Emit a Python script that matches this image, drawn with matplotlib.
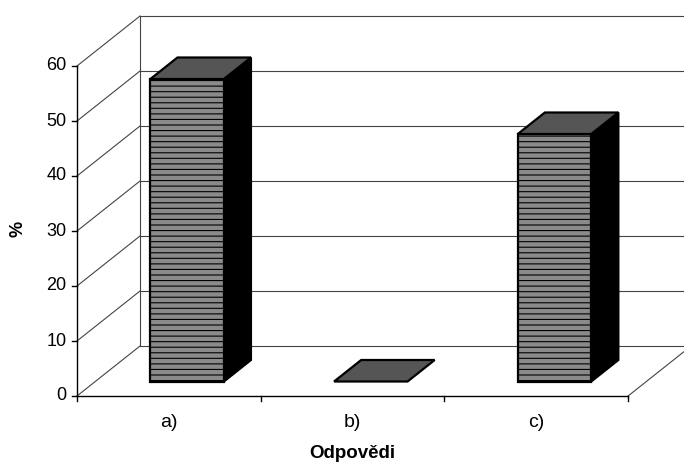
import numpy as np
import matplotlib.pyplot as plt
from matplotlib.patches import Polygon

plt.rcParams['font.family'] = ['Liberation Sans', 'DejaVu Sans']
plt.rcParams['hatch.color'] = '#a0a0a0'
plt.rcParams['hatch.linewidth'] = 0.8

categories = ['a)', 'b)', 'c)']
values = [55, 0, 45]
yticks = [0, 10, 20, 30, 40, 50, 60]

# depth offset of the back wall, in category units and value units
DX = 0.343
DY = 9.09
# bar depth span and width
F0, F1 = 0.29, 0.72
W = 0.4

def proj(x, y, d):
    return (x + d * DX, y + d * DY)

fig = plt.figure(figsize=(6.84, 4.66), dpi=100)
ax = fig.add_axes([0, 0, 1, 1])
ax.set_xlim(-77 / 183.7, (684 - 77) / 183.7)
ax.set_ylim(-70 / 5.5, 396 / 5.5)
ax.axis('off')

grid_kw = dict(color='#444444', lw=0.8, zorder=1)
n = len(categories)
ymax = yticks[-1]

# left wall and back wall gridlines
for v in yticks:
    p0, p1 = proj(0, v, 0), proj(0, v, 1)
    ax.plot([p0[0], p1[0]], [p0[1], p1[1]], **grid_kw)
    q1 = proj(n, v, 1)
    ax.plot([p1[0], q1[0]], [p1[1], q1[1]], **grid_kw)
b0, b1 = proj(0, 0, 1), proj(0, ymax, 1)
ax.plot([b0[0], b1[0]], [b0[1], b1[1]], **grid_kw)

# floor right edge
r0, r1 = proj(n, 0, 0), proj(n, 0, 1)
ax.plot([r0[0], r1[0]], [r0[1], r1[1]], **grid_kw)

# front value axis with ticks and labels
ax.plot([0, 0], [0, ymax], color='black', lw=1.0, zorder=3)
for v in yticks:
    ax.plot([-0.028, 0], [v, v], color='black', lw=1.0, zorder=3)
    ax.text(-0.058, v, str(v), ha='right', va='center', fontsize=13)

# front category axis
ax.plot([0, n], [0, 0], color='black', lw=1.0, zorder=3)
for i in range(n + 1):
    ax.plot([i, i], [0, -0.95], color='black', lw=1.0, zorder=3)
for i, c in enumerate(categories):
    ax.text(i + 0.5, -4.9, c, ha='center', va='center', fontsize=14)

ax.text(-0.322, 30.3, '%', rotation=90, ha='center', va='center',
        fontsize=13, fontweight='bold')
ax.text(1.5, -10.4, 'Odpovědi', ha='center', va='center',
        fontsize=13.5, fontweight='bold')

# 3D bars
edge = dict(edgecolor='black', lw=1.6, joinstyle='miter', zorder=5)
for i, v in enumerate(values):
    xl, xr = i + 0.5 - W / 2, i + 0.5 + W / 2
    front = [proj(xl, 0, F0), proj(xr, 0, F0), proj(xr, v, F0), proj(xl, v, F0)]
    top = [proj(xl, v, F0), proj(xr, v, F0), proj(xr, v, F1), proj(xl, v, F1)]
    side = [proj(xr, 0, F0), proj(xr, 0, F1), proj(xr, v, F1), proj(xr, v, F0)]
    if v > 0:
        ax.add_patch(Polygon(side, closed=True, facecolor='black', **edge))
        ax.add_patch(Polygon(front, closed=True, facecolor='#8a8a8a',
                             hatch='---', **edge))
    ax.add_patch(Polygon(top, closed=True, facecolor='#555555', **edge))

fig.savefig('out.png', dpi=100)
